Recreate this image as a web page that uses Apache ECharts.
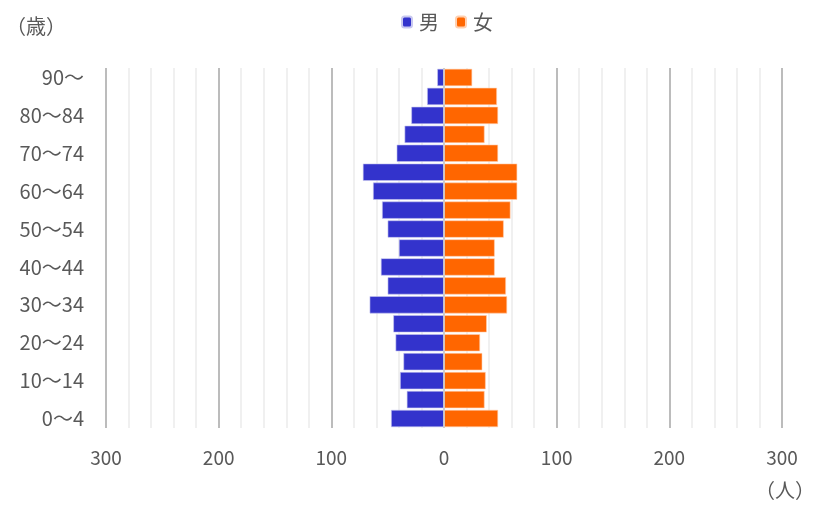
<!DOCTYPE html>
<html>
<head>
<meta charset="utf-8">
<script src="https://cdn.jsdelivr.net/npm/echarts@6/dist/echarts.min.js"></script>
<style>
  html, body { margin: 0; padding: 0; background: #fff; }
  #chart { width: 815px; height: 505px; }
</style>
</head>
<body>
<div id="chart"></div>
<script>
const ageGroups = ['0～4', '5～9', '10～14', '15～19', '20～24', '25～29', '30～34', '35～39',
  '40～44', '45～49', '50～54', '55～59', '60～64', '65～69', '70～74', '75～79',
  '80～84', '85～89', '90～'];
// 男 (drawn to the left)
const maleValues = [47, 33, 39, 36, 43, 45, 66, 50, 56, 40, 50, 55, 63, 72, 42, 35, 29, 15, 6];
// 女
const femaleValues = [48, 36, 37, 34, 32, 38, 56, 55, 45, 45, 53, 59, 65, 65, 48, 36, 48, 47, 25];
const xTicks = [-300, -200, -100, 0, 100, 200, 300];

const textColor = '#595959';
const font = '"Noto Sans CJK JP", sans-serif';

const chart = echarts.init(document.getElementById('chart'));
chart.setOption({
  animation: false,
  textStyle: { fontFamily: font },
  legend: {
    top: 7,
    left: 396,
    itemWidth: 10,
    itemHeight: 11,
    itemGap: 16,
    textStyle: { color: textColor, fontSize: 20, fontFamily: font, padding: [0, 0, 0, 2] },
    data: ['男', '女']
  },
  grid: { left: 106, right: 33, top: 68, bottom: 77 },
  graphic: [
    { type: 'text', left: 6, top: 16, style: { text: '（歳）', fill: textColor, font: '20px ' + font } },
    { type: 'text', right: 0, top: 480, style: { text: '（人）', fill: textColor, font: '20px ' + font } }
  ],
  xAxis: {
    type: 'value',
    min: xTicks[0],
    max: xTicks[xTicks.length - 1],
    interval: 100,
    axisLine: { show: false },
    axisTick: { show: false },
    axisLabel: {
      color: textColor, fontSize: 19, margin: 20,
      formatter: v => String(Math.abs(v))
    },
    splitLine: { lineStyle: { color: '#a6a6a6', width: 1.5 } },
    minorTick: { show: false, splitNumber: 5 },
    minorSplitLine: { show: true, lineStyle: { color: '#ebebeb', width: 1.5 } }
  },
  yAxis: {
    type: 'category',
    data: ageGroups,
    axisLine: { show: false, onZero: false },
    axisTick: { show: false },
    axisLabel: { interval: 1, color: textColor, fontSize: 20, margin: 22 }
  },
  series: [
    {
      name: '男',
      type: 'bar',
      stack: 'pop',
      barCategoryGap: '9%',
      data: maleValues.map(v => -v),
      itemStyle: { color: '#3333cc', borderColor: '#c8c8f0', borderWidth: 0.6 },
      markLine: {
        silent: true,
        symbol: 'none',
        label: { show: false },
        lineStyle: { color: '#d0d0d0', width: 1.5, type: 'solid' },
        data: [{ xAxis: 0 }]
      }
    },
    {
      name: '女',
      type: 'bar',
      stack: 'pop',
      barCategoryGap: '9%',
      data: femaleValues,
      itemStyle: { color: '#ff6600', borderColor: '#ffd0b0', borderWidth: 0.6 }
    }
  ]
});
</script>
</body>
</html>
